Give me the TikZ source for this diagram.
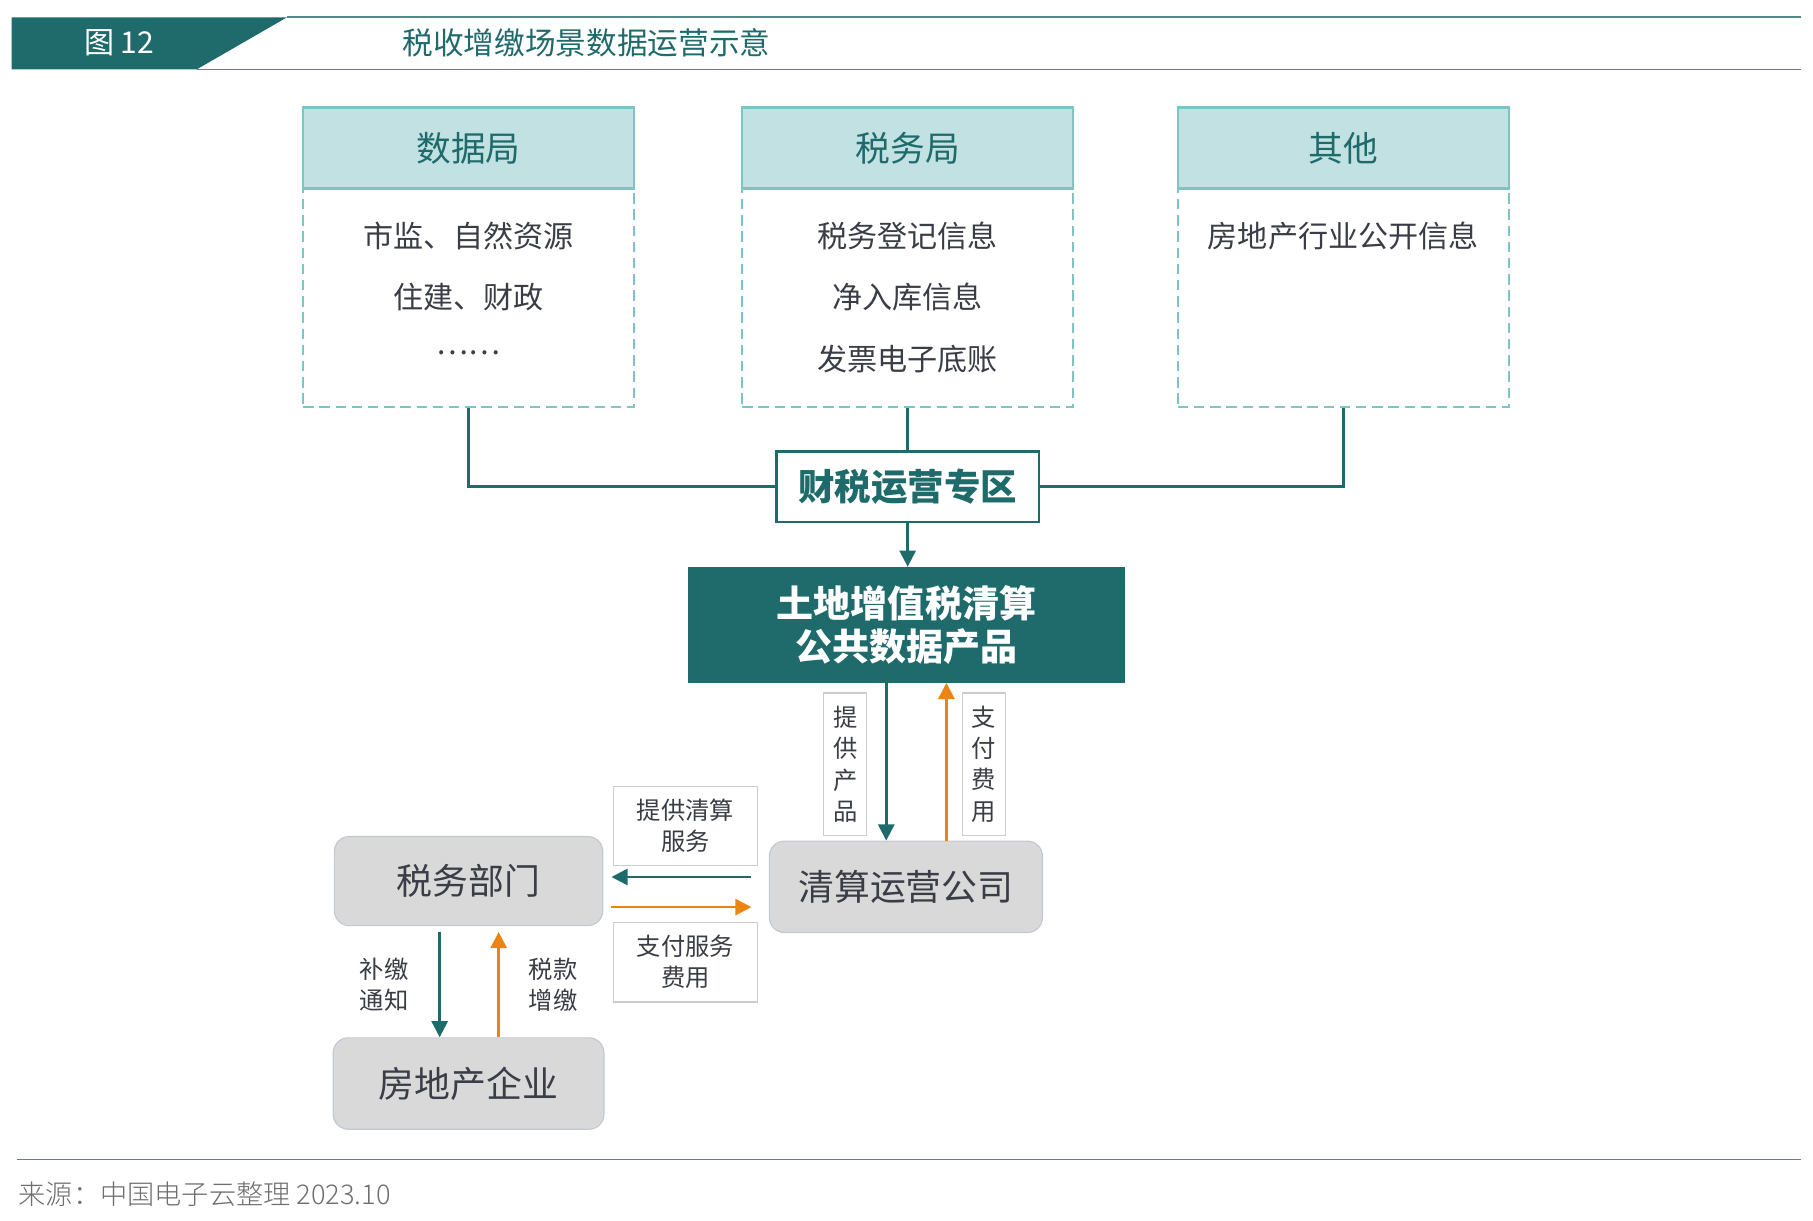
\documentclass[tikz,border=0pt]{standalone}
\usepackage{fontspec}
\setmainfont{Noto Sans CJK SC}
\newfontfamily\lightfont{Noto Sans CJK SC Light}
\usetikzlibrary{arrows.meta}
\definecolor{tdark}{HTML}{1F6A6B}
\definecolor{tlight}{HTML}{C1E1E2}
\definecolor{tborder}{HTML}{7EC3C5}
\definecolor{tline}{HTML}{4F8A8B}
\definecolor{orng}{HTML}{EA8513}
\definecolor{gfill}{HTML}{D9D9D9}
\definecolor{gline}{HTML}{C3C8D1}
\definecolor{txt}{HTML}{3A3D45}
\definecolor{foot}{HTML}{6E6E6E}
\newcommand{\fs}[2]{\fontsize{#1}{#2}\selectfont}
\begin{document}
\begin{tikzpicture}[x=1pt,y=-1pt,
  headbox/.style={rectangle,fill=tlight,draw=tborder,line width=2pt,minimum width=286pt,minimum height=70pt,inner sep=0pt,text=tdark,font=\fs{30}{36}},
  bodybox/.style={rectangle,draw=tborder,line width=1.6pt,dash pattern=on 9pt off 5pt,minimum width=286pt,minimum height=189pt,inner sep=0pt},
  bodytxt/.style={text=txt,font=\fs{26}{30},inner sep=0pt},
  conn/.style={draw=tdark,line width=2.2pt},
  arrT/.style={draw=tdark,line width=2.2pt,-{Triangle[length=14pt,width=14pt]}},
  arrO/.style={draw=orng,line width=2.2pt,-{Triangle[length=14pt,width=14pt]}},
  gbox/.style={rectangle,rounded corners=13pt,fill=gfill,draw=gline,line width=1pt,inner sep=0pt,text=txt,font=\fs{31}{36}},
  lbl/.style={rectangle,draw=black!20,fill=white,line width=1pt,inner sep=0pt,text=txt,font=\fs{21}{27},align=center},
  free/.style={inner sep=0pt,text=txt,font=\fs{21}{27},align=center}]
\useasboundingbox (0,0) rectangle (1567,1054.5);
% header
\fill[tdark] (10,15) -- (248,15) -- (170,60) -- (10,60) -- cycle;
\draw[tline,line width=1.5pt] (248,15) -- (1557,15);
\draw[tline,line width=1.5pt] (170,60) -- (1557,60);
\node[text=white,font=\fs{26}{30},inner sep=0pt] (fig) at (103,37) {图 12};
\node[text=tdark,font=\fs{26.5}{30},inner sep=0pt] (title) at (507,37) {税收增缴场景数据运营示意};
% top boxes
\node[bodybox] (b1) at (405,257.5) {};
\node[bodybox] (b2) at (784.5,257.5) {};
\node[bodybox] (b3) at (1161,257.5) {};
\node[headbox] (h1) at (405,128) {数据局};
\node[headbox] (h2) at (784.5,128) {税务局};
\node[headbox] (h3) at (1161,128) {其他};
\node[bodytxt] (t11) at (405,204) {市监、自然资源};
\node[bodytxt] (t12) at (405,257) {住建、财政};
\node[bodytxt] (t13) at (405,305) {……};
\node[bodytxt] (t21) at (784.5,204) {税务登记信息};
\node[bodytxt] (t22) at (784.5,257) {净入库信息};
\node[bodytxt] (t23) at (784.5,310) {发票电子底账};
\node[bodytxt] (t31) at (1161,204) {房地产行业公开信息};
% zone
\node[rectangle,draw=tdark,fill=white,line width=2.2pt,minimum width=227pt,minimum height=61pt,inner sep=0pt,text=tdark,font=\bfseries\fs{31.5}{36}] (zone) at (784.5,420.5) {财税运营专区};
\draw[conn] (b1.south) |- (zone.west);
\draw[conn] (b2.south) -- (zone.north);
\draw[conn] (b3.south) |- (zone.east);
% product
\node[rectangle,fill=tdark,minimum width=377pt,minimum height=100pt,inner sep=0pt,text=white,font=\bfseries\fs{32}{37},align=center] (prod) at (783.5,540) {土地增值税清算\\公共数据产品};
\draw[arrT] (zone.south) -- (zone.south |- prod.north);
% company
\node[gbox,minimum width=236pt,minimum height=79pt] (comp) at (783,766.5) {清算运营公司};
\node[gbox,minimum width=232pt,minimum height=77pt] (tax) at (405,761.5) {税务部门};
\node[gbox,minimum width=234pt,minimum height=79pt] (firm) at (405,936.5) {房地产企业};
% vertical product arrows
\draw[arrT] ([xshift=-17.5pt]prod.south) -- ([xshift=-17.5pt]prod.south |- comp.north);
\draw[arrO] ([xshift=34.5pt]prod.south |- comp.north) -- ([xshift=34.5pt]prod.south);
\node[lbl,minimum width=37pt,minimum height=123pt] (l1) at (730.5,660.5) {提\\供\\产\\品};
\node[lbl,minimum width=37pt,minimum height=123pt] (l2) at (850.5,660.5) {支\\付\\费\\用};
% horizontal arrows
\draw[arrT,shorten <=15pt,shorten >=7pt] ([yshift=8.5pt]comp.west) -- ([yshift=8.5pt]comp.west -| tax.east);
\draw[arrO,shorten <=7pt,shorten >=15pt] ([yshift=-17.5pt]comp.west -| tax.east) -- ([yshift=-17.5pt]comp.west);
\node[lbl,minimum width=125pt,minimum height=68pt] (l3) at (592.5,714) {提供清算\\服务};
\node[lbl,minimum width=125pt,minimum height=69pt] (l4) at (592.5,831.5) {支付服务\\费用};
% bottom-left arrows
\draw[arrT,shorten <=5pt] ([xshift=-25pt]tax.south) -- ([xshift=-25pt]tax.south |- firm.north);
\draw[arrO,shorten >=5pt] ([xshift=26pt]tax.south |- firm.north) -- ([xshift=26pt]tax.south);
\node[free] (l5) at (332,851) {补缴\\通知};
\node[free] (l6) at (478,851) {税款\\增缴};
% footer
\draw[tline,line width=1.2pt] (15,1002) -- (1557,1002);
\node[anchor=west,inner sep=0pt,text=foot,font=\lightfont\fs{23.5}{28}] (src) at (16,1032) {来源：中国电子云整理 2023.10};
\end{tikzpicture}
\end{document}
